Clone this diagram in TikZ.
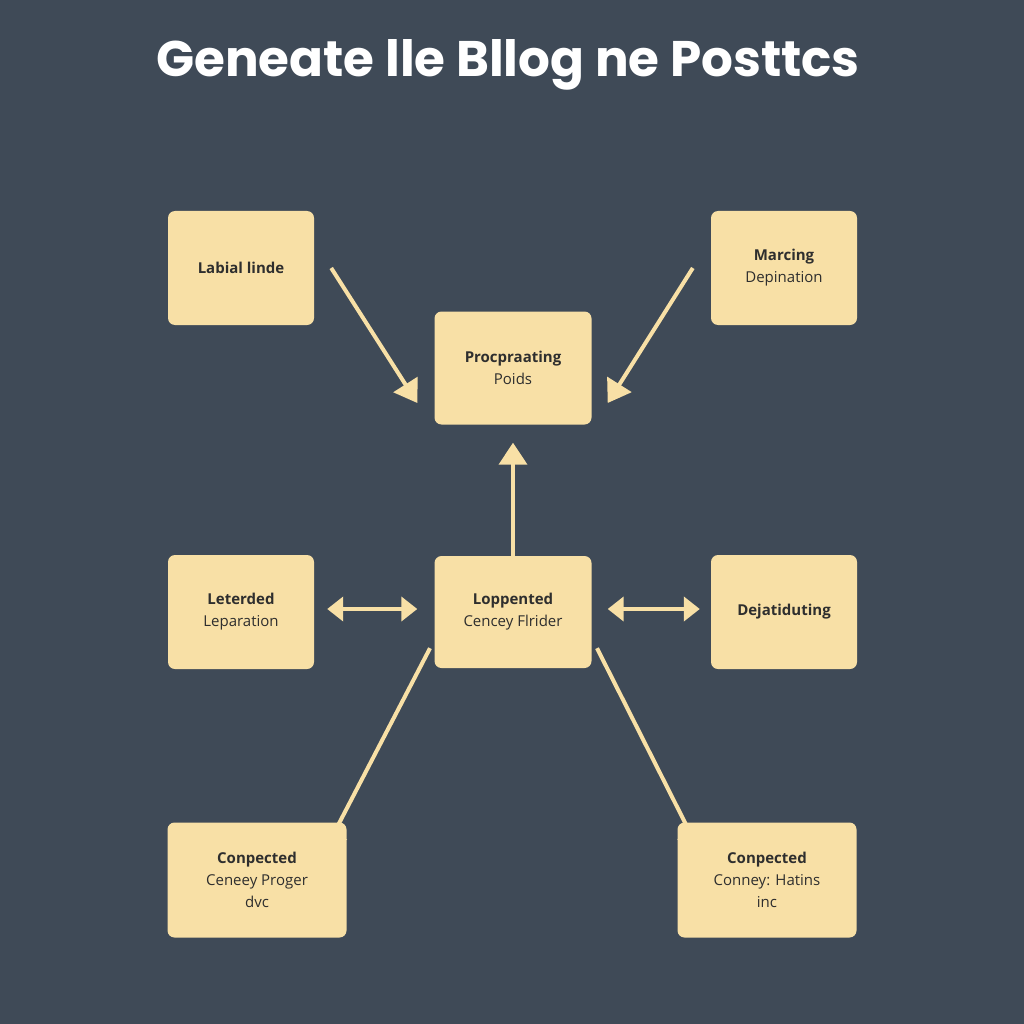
\documentclass[tikz,border=0pt]{standalone}
\usepackage{fontspec}
\setmainfont{Open Sans}
\newfontfamily\titlefont{Poppins}
\usetikzlibrary{arrows.meta}
\definecolor{slate}{HTML}{3F4A57}
\definecolor{card}{HTML}{F8E0A6}
\definecolor{ink}{HTML}{2E2E2E}
\tikzset{
  card/.style={fill=card, rounded corners=7pt, minimum width=146pt, minimum height=114pt, align=center, text=ink, font=\fontsize{15}{22}\selectfont},
  wide/.style={card, minimum width=179pt, minimum height=115pt},
  arr/.style={draw=card, line width=4pt, -{Triangle[length=22pt,width=28pt]}},
  darr/.style={draw=card, line width=4pt, {Triangle[length=16pt,width=24pt]}-{Triangle[length=16pt,width=24pt]}}
}
\begin{document}
\begin{tikzpicture}[x=1pt,y=-1pt]
\fill[slate] (0,0) rectangle (1024,1024);
\node[text=white, font=\titlefont\bfseries\fontsize{50}{56}\selectfont] (title) at (508,65) {Geneate lle Bllog ne Posttcs};
\node[card] (labial) at (241,268) {\textbf{Labial linde}};
\node[card] (marcing) at (784,268) {\textbf{Marcing}\\Depination};
\node[card, minimum width=157pt, minimum height=113pt] (proc) at (513,368) {\textbf{Procpraating}\\Poids};
\node[card] (leter) at (241,612) {\textbf{Leterded}\\Leparation};
\node[card, minimum width=157pt, minimum height=112pt] (lopp) at (513,612) {\textbf{Loppented}\\Cencey Flrider};
\node[card] (dejat) at (784,612) {\textbf{Dejatiduting}};
\node[wide] (conl) at (257,880) {\textbf{Conpected}\\Ceneey Proger\\dvc};
\node[wide] (conr) at (767,880) {\textbf{Conpected}\\Conney: Hatins\\inc};
% connectors
\draw[arr] ([xshift=17pt]labial.east) -- ([xshift=-17pt,yshift=-35pt]proc.west);
\draw[arr] ([xshift=-18pt]marcing.west) -- ([xshift=16pt,yshift=-35pt]proc.east);
\draw[arr] ([yshift=-26pt]lopp.north) -- ([yshift=-18pt]proc.south);
\draw[darr] ([xshift=13pt,yshift=3pt]leter.east) -- ([xshift=-17pt,yshift=3pt]lopp.west);
\draw[darr] ([xshift=16pt,yshift=3pt]lopp.east) -- ([xshift=-11pt,yshift=3pt]dejat.west);
\draw[arr] ([xshift=-83pt,yshift=20pt]lopp.south) -- ([xshift=67pt,yshift=-30pt]conl.north);
\draw[arr] ([xshift=84pt,yshift=20pt]lopp.south) -- ([xshift=-67pt,yshift=-30pt]conr.north);
\end{tikzpicture}
\end{document}
